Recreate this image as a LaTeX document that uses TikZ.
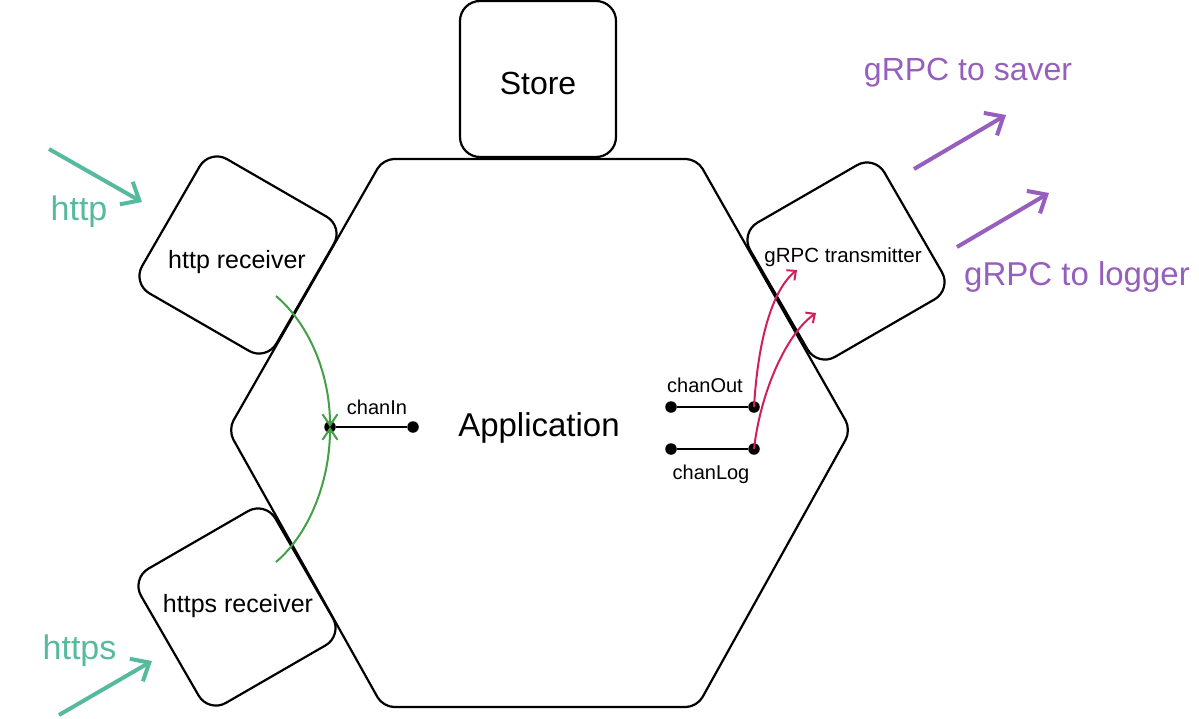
\documentclass[tikz,border=0pt]{standalone}
\usepackage{fontspec}
\setmainfont{Liberation Sans}
\usetikzlibrary{arrows.meta}
\definecolor{tealc}{HTML}{57BA9E}
\definecolor{purplec}{HTML}{965FBE}
\definecolor{redc}{HTML}{D11F5C}
\definecolor{greenc}{HTML}{43A047}
\tikzset{
  fs/.style={font=\fontsize{#1}{#1}\selectfont},
  rbox/.style={draw, line width=2.2pt, rounded corners=20pt, minimum size=155pt, inner sep=0pt},
  lbl/.style={inner sep=0pt},
  dot/.style={circle, fill=black, inner sep=0pt, minimum size=11.5pt},
  chan/.style={line width=2.4pt},
  bigarrow/.style={line width=4pt, -{Straight Barb[length=15pt,width=26pt,line width=4pt]}},
  smallred/.style={redc, line width=2pt, -{Straight Barb[length=7pt,width=13pt,line width=2pt]}},
  smallgreen/.style={greenc, line width=2pt, -{Straight Barb[length=11pt,width=15pt,line width=2pt]}},
}
\begin{document}
\begin{tikzpicture}[x=1pt,y=-1pt]
\useasboundingbox (0,0) rectangle (1199,718);
% hexagon
\draw[line width=2.2pt, rounded corners=11pt] (383,159) -- (697,159) -- (851,430) -- (697,707) -- (383,707) -- (228,430) -- cycle;
\node[lbl, fs=33] (app) at (539,428) {Application};
% store
\node[draw, line width=2.2pt, rounded corners=20pt, minimum width=156pt, minimum height=156pt, inner sep=0pt] (store) at (538,79) {};
\node[lbl, fs=32] (storelbl) at (538,83) {Store};
% rotated boxes
\node[rbox, rotate=-30] (httpbox) at (238,255) {};
\node[lbl, fs=25] (httplbl) at (237,262) {http receiver};
\node[rbox, rotate=30] (httpsbox) at (237,607) {};
\node[lbl, fs=25] (httpslbl) at (238,606) {https receiver};
\node[rbox, rotate=30] (grpcbox) at (846,261) {};
\node[lbl, fs=20.5] (grpclbl) at (843,257) {gRPC transmitter};
% channels
\node[dot] (inA) at (330,427) {};
\node[dot] (inB) at (413,427) {};
\draw[chan] (inA) -- (inB);
\node[lbl, fs=20] (chanin) at (377,407) {chanIn};
\node[dot] (outA) at (671,407) {};
\node[dot] (outB) at (754,407) {};
\draw[chan] (outA) -- (outB);
\node[lbl, fs=20] (chanout) at (705,385) {chanOut};
\node[dot] (logA) at (671,449) {};
\node[dot] (logB) at (754,449) {};
\draw[chan] (logA) -- (logB);
\node[lbl, fs=20] (chanlog) at (711,474) {chanLog};
% green curves
\coordinate (gtop) at (276,296);
\coordinate (gbot) at (276,562);
\draw[smallgreen] (gtop) .. controls (310,325) and (330,375) .. (inA.center);
\draw[smallgreen] (gbot) .. controls (310,533) and (330,480) .. (inA.center);
% red curves
\coordinate (rtipA) at (797,270);
\coordinate (rtipB) at (816,313);
\draw[smallred] (outB.center) .. controls (758,340) and (772,290) .. (rtipA);
\draw[smallred] (logB.center) .. controls (760,395) and (785,335) .. (rtipB);
% input arrows
\coordinate (hs) at (49,149);
\coordinate (he) at (142,202);
\draw[bigarrow, tealc] (hs) -- (he);
\node[lbl, fs=34, text=tealc] (httpin) at (79,212) {http};
\coordinate (hss) at (59,715);
\coordinate (hse) at (152,661);
\draw[bigarrow, tealc] (hss) -- (hse);
\node[lbl, fs=34, text=tealc] (httpsin) at (79.5,651) {https};
% output arrows
\coordinate (ps) at (914,169);
\coordinate (pe) at (1006,115);
\draw[bigarrow, purplec] (ps) -- (pe);
\node[lbl, fs=32, text=purplec] (saver) at (968,73) {gRPC to saver};
\coordinate (ls) at (957,247);
\coordinate (le) at (1049,193);
\draw[bigarrow, purplec] (ls) -- (le);
\node[lbl, fs=33, text=purplec] (logger) at (1077,277) {gRPC to logger};
\end{tikzpicture}
\end{document}
